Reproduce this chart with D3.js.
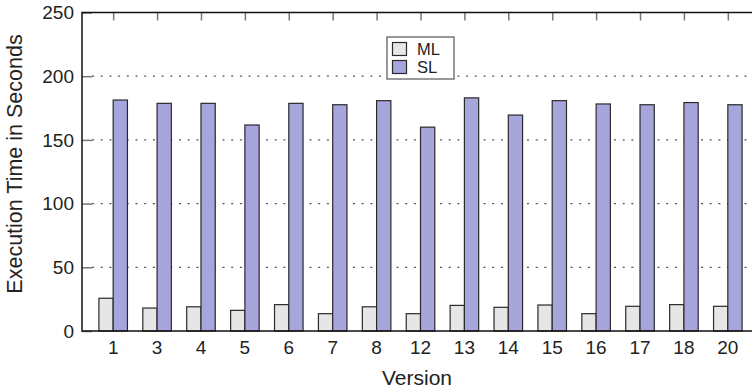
<!DOCTYPE html>
<html>
<head>
<meta charset="utf-8">
<script src="https://cdn.jsdelivr.net/npm/d3@7"></script>
<style>
  body { margin: 0; background: #fff; }
  svg { display: block; font-family: "Liberation Sans", Arial, sans-serif; }
</style>
</head>
<body>
<div id="chart"></div>
<script>
// data
var versions = ["1", "3", "4", "5", "6", "7", "8", "12", "13", "14", "15", "16", "17", "18", "20"];
var mlTimes = [25.7, 18, 19, 16.2, 20.7, 13.6, 19, 13.6, 20.1, 18.6, 20.4, 13.6, 19.4, 20.7, 19.4];
var slTimes = [181.3, 178.7, 178.7, 161.7, 178.7, 177.6, 180.8, 160, 183, 169.5, 180.8, 178.2, 177.6, 179.3, 177.6];
var yTicks = [0, 50, 100, 150, 200, 250];
var seriesNames = ["ML", "SL"];
var seriesColors = ["#e6e6e6", "#a6a6dc"];

var W = 752, H = 392;
// plot box; right edge runs past the picture like in the original
var plotL = 82, plotR = 759, plotT = 12.5, plotB = 331;

var svg = d3.select("#chart").append("svg")
    .attr("width", W)
    .attr("height", H);

var x = d3.scalePoint()
    .domain(versions)
    .range([plotL, plotR])
    .padding(0.71);

var y = d3.scaleLinear()
    .domain([0, 250])
    .range([plotB, plotT]);

var barW = x.step() * 0.325;

// dotted grid lines
svg.append("g")
    .selectAll("line")
    .data(yTicks.filter(function(d) { return d > 0 && d < 250; }))
    .enter().append("line")
    .attr("x1", plotL + 10)
    .attr("x2", plotR)
    .attr("y1", function(d) { return y(d); })
    .attr("y2", function(d) { return y(d); })
    .attr("stroke", "#555")
    .attr("stroke-width", 1.3)
    .attr("stroke-dasharray", "2,6.7");

// y axis ticks
var yAxis = svg.append("g")
    .attr("transform", "translate(" + plotL + ",0)")
    .call(d3.axisRight(y).tickValues(yTicks).tickSize(10).tickFormat(""));
yAxis.select(".domain").remove();
yAxis.selectAll(".tick line").attr("stroke", "#777").attr("stroke-width", 1.5);

svg.append("g")
    .selectAll("text")
    .data(yTicks)
    .enter().append("text")
    .attr("x", plotL - 8)
    .attr("y", function(d) { return y(d); })
    .attr("dy", "0.36em")
    .attr("text-anchor", "end")
    .attr("font-size", 19)
    .attr("fill", "#222")
    .text(function(d) { return d; });

// top ticks
var topAxis = svg.append("g")
    .attr("transform", "translate(0," + plotT + ")")
    .call(d3.axisBottom(x).tickSize(8).tickFormat(""));
topAxis.select(".domain").remove();
topAxis.selectAll(".tick line").attr("stroke", "#777").attr("stroke-width", 1.5);

// bars
var groups = [mlTimes, slTimes];
groups.forEach(function(vals, s) {
    svg.append("g")
        .selectAll("rect")
        .data(vals)
        .enter().append("rect")
        .attr("x", function(d, i) { return s == 0 ? x(versions[i]) - barW : x(versions[i]); })
        .attr("y", function(d) { return y(d); })
        .attr("width", barW)
        .attr("height", function(d) { return y(0) - y(d); })
        .attr("fill", seriesColors[s])
        .attr("stroke", "#2a2a2a")
        .attr("stroke-width", 1.2);
});

// frame
svg.append("path")
    .attr("d", "M" + plotR + "," + plotT + "H" + plotL + "V" + plotB + "H" + plotR)
    .attr("fill", "none")
    .attr("stroke", "#111")
    .attr("stroke-width", 1.5);

// x tick labels
svg.append("g")
    .selectAll("text")
    .data(versions)
    .enter().append("text")
    .attr("x", function(d) { return x(d); })
    .attr("y", plotB + 23)
    .attr("text-anchor", "middle")
    .attr("font-size", 19)
    .attr("fill", "#222")
    .text(function(d) { return d; });

// axis titles
svg.append("text")
    .attr("x", 417)
    .attr("y", 385)
    .attr("text-anchor", "middle")
    .attr("font-size", 21)
    .attr("fill", "#222")
    .text("Version");

svg.append("text")
    .attr("transform", "translate(22,164) rotate(-90)")
    .attr("text-anchor", "middle")
    .attr("font-size", 21.5)
    .attr("fill", "#222")
    .text("Execution Time in Seconds");

// legend
var legend = svg.append("g").attr("transform", "translate(387,37)");
legend.append("rect")
    .attr("width", 67)
    .attr("height", 42)
    .attr("fill", "#fff")
    .attr("stroke", "#555")
    .attr("stroke-width", 1.2);
seriesNames.forEach(function(name, i) {
    legend.append("rect")
        .attr("x", 5.5)
        .attr("y", 5.5 + i * 18)
        .attr("width", 14)
        .attr("height", 13)
        .attr("fill", seriesColors[i])
        .attr("stroke", "#2a2a2a")
        .attr("stroke-width", 1.2);
    legend.append("text")
        .attr("x", 30)
        .attr("y", 18 + i * 18)
        .attr("font-size", 16.5)
        .attr("fill", "#222")
        .text(name);
});
</script>
</body>
</html>
